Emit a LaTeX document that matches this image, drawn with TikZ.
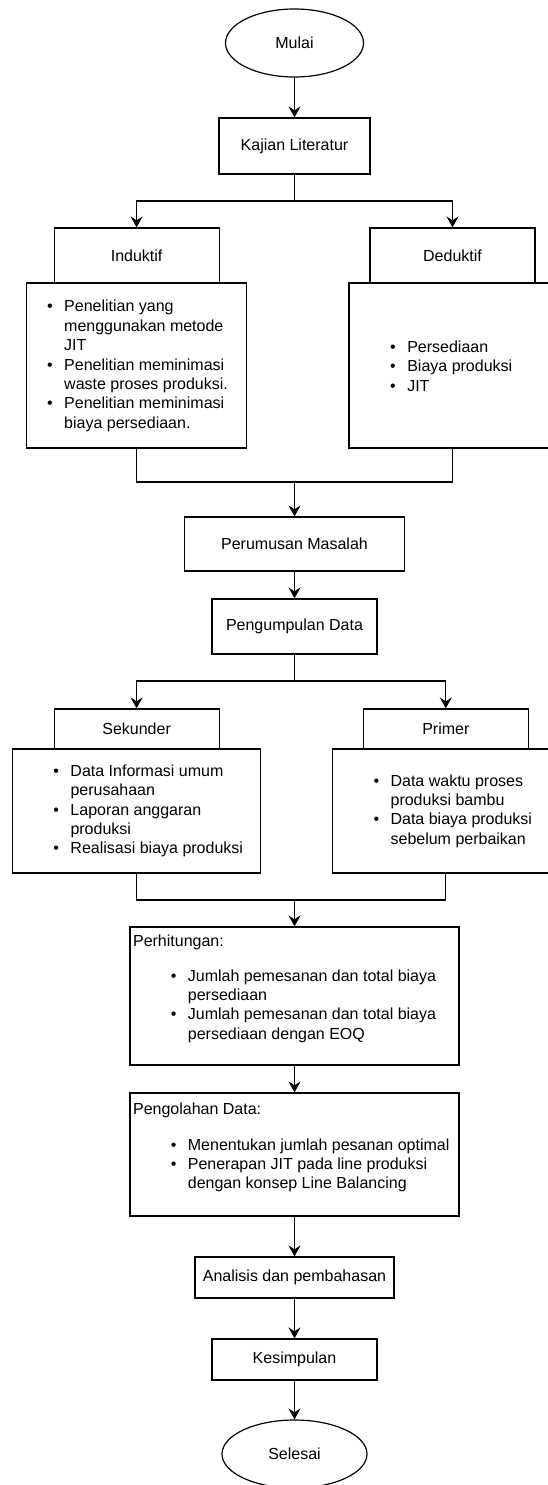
\documentclass[tikz,border=0pt]{standalone}
\usepackage{fontspec}
\setmainfont{Liberation Sans}
\usetikzlibrary{arrows.meta,shapes.geometric}
\newcommand{\itm}{\llap{\textbullet\hspace{11.5pt}}}

\begin{document}
\begin{tikzpicture}
[x=1pt,y=-1pt,line width=1.2pt,
every node/.style={font=\fontsize{16}{19.4}\selectfont},
proc/.style={rectangle,draw,inner sep=0pt},
term/.style={ellipse,draw,inner sep=0pt},
txt/.style={align=left,inner sep=0pt,anchor=west},
arr/.style={-{Stealth[length=11pt,width=12pt,inset=4pt]}}]
\useasboundingbox (0,0) rectangle (548,1485);

\node (mulai) at (294.5,43) [term,minimum width=138,minimum height=68] {Mulai};
\node (kajian) at (294.5,146) [proc,minimum width=151,minimum height=56] {Kajian Literatur};
\node (ind) at (136.6,255.5) [proc,minimum width=165,minimum height=55] {Induktif};
\node (ded) at (452.5,255.5) [proc,minimum width=165,minimum height=55] {Deduktif};
\node (indlist) at (136.6,365.5) [proc,minimum width=220,minimum height=165] {};
\node (dedlist) at (452.5,365.5) [proc,minimum width=207,minimum height=165] {};
\node (indtxt) at (63.6,366) [txt] {\itm Penelitian yang\\ menggunakan metode\\ JIT\\
  \itm Penelitian meminimasi\\ waste proses produksi.\\ \itm Penelitian meminimasi\\ biaya persediaan.};
\node (dedtxt) at (406.7,366) [txt] {\itm Persediaan\\ \itm Biaya produksi\\ \itm JIT};
\node (rumus) at (294.5,544) [proc,minimum width=220,minimum height=54] {Perumusan Masalah};
\node (kumpul) at (294.5,626.5) [proc,minimum width=165,minimum height=55] {Pengumpulan Data};
\node (sek) at (136.6,729) [proc,minimum width=165,minimum height=40] {Sekunder};
\node (prim) at (445.8,729) [proc,minimum width=165,minimum height=40] {Primer};
\node (seklist) at (136.6,811) [proc,minimum width=247.5,minimum height=124] {};
\node (primlist) at (445.8,811) [proc,minimum width=227,minimum height=124] {};
\node (sektxt) at (69.9,811) [txt] {\itm Data Informasi umum\\ perusahaan\\ \itm Laporan anggaran\\
  produksi\\ \itm Realisasi biaya produksi};
\node (primtxt) at (390,811) [txt] {\itm Data waktu proses\\ produksi bambu\\ \itm Data biaya produksi\\
  sebelum perbaikan};
\node (hitung) at (294.5,996) [proc,minimum width=329,minimum height=138] {};
\node (hitungjdl) at (132.5,942.7) [txt] {Perhitungan:};
\node (hitungtxt) at (187.3,1006) [txt] {\itm Jumlah pemesanan dan total biaya\\ persediaan\\
  \itm Jumlah pemesanan dan total biaya\\ persediaan dengan EOQ};
\node (olah) at (294.5,1154.5) [proc,minimum width=329,minimum height=123] {};
\node (olahjdl) at (132.5,1110) [txt] {Pengolahan Data:};
\node (olahtxt) at (187.3,1165.3) [txt] {\itm Menentukan jumlah pesanan optimal\\
  \itm Penerapan JIT pada line produksi\\ dengan konsep Line Balancing};
\node (analisis) at (294.5,1277.5) [proc,minimum width=199,minimum height=41] {Analisis dan pembahasan};
\node (simpul) at (294.5,1359.5) [proc,minimum width=165,minimum height=41] {Kesimpulan};
\node (selesai) at (294.5,1454) [term,minimum width=145,minimum height=68] {Selesai};

\coordinate (cab1) at (294.5,201);
\coordinate (gab1) at (294.5,482);
\coordinate (cab2) at (294.5,681);
\coordinate (gab2) at (294.5,900);

\draw[arr] (mulai) -- (kajian);
\draw (kajian) -- (cab1);
\draw[arr] (cab1) -| (ind);
\draw[arr] (cab1) -| (ded);
\draw (indlist) |- (gab1);
\draw (dedlist) |- (gab1);
\draw[arr] (gab1) -- (rumus);
\draw[arr] (rumus) -- (kumpul);
\draw (kumpul) -- (cab2);
\draw[arr] (cab2) -| (sek);
\draw[arr] (cab2) -| (prim);
\draw (seklist) |- (gab2);
\draw (primlist) |- (gab2);
\draw[arr] (gab2) -- (hitung);
\draw[arr] (hitung) -- (olah);
\draw[arr] (olah) -- (analisis);
\draw[arr] (analisis) -- (simpul);
\draw[arr] (simpul) -- (selesai);

\end{tikzpicture}
\end{document}
